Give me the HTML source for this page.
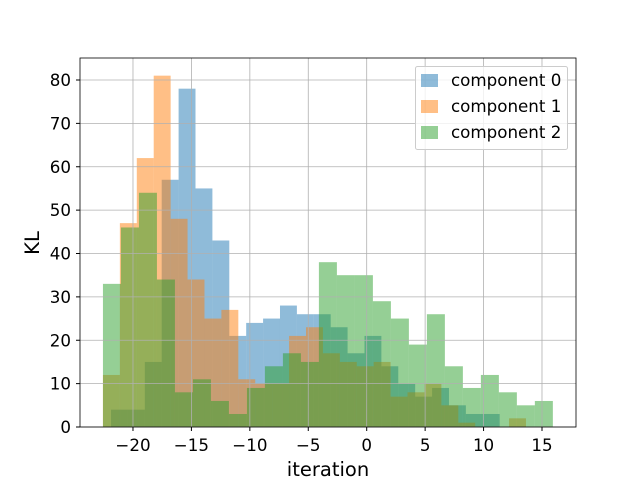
<!DOCTYPE html>
<html><head><meta charset="utf-8"><style>
body{margin:0;background:#fff}
svg{display:block;font-family:"DejaVu Sans","Liberation Sans",sans-serif}
</style></head><body>
<svg id="chart" width="640" height="480">
<rect x="0" y="0" width="640" height="480" fill="#fff"/>
<g id="bars"></g>
<g id="grid"></g>
<rect x="80" y="58" width="496" height="369" fill="none" stroke="#000" stroke-width="0.8"/>
<g id="ticks"></g>
<text x="328" y="476" font-size="19.5" text-anchor="middle">iteration</text>
<text x="39" y="243" font-size="19.5" text-anchor="middle" transform="rotate(-90 39 243)">KL</text>
<g>
<rect x="415.5" y="66.5" width="152" height="83" rx="2" fill="#fff" fill-opacity="0.8" stroke="#ccc"/>
<g><rect x="421" y="74" width="17" height="13" fill="#1f77b4" fill-opacity="0.5"/><text x="451" y="86" font-size="16.7">component 0</text></g>
<g><rect x="421" y="100" width="17" height="13" fill="#ff7f0e" fill-opacity="0.5"/><text x="451" y="112" font-size="16.7">component 1</text></g>
<g><rect x="421" y="126" width="17" height="13" fill="#2ca02c" fill-opacity="0.5"/><text x="451" y="138" font-size="16.7">component 2</text></g>
</g>
</svg>
<script>
const xTicks=[-20,-15,-10,-5,0,5,10,15];
const yTicks=[0,10,20,30,40,50,60,70,80];
const blueStart=-21.88, blueWidth=1.446;
const blueCounts=[4,4,15,57,78,55,43,21,24,25,28,26,26,23,17,21,14,10,7,9,5,3,3];
const orangeStart=-22.57, orangeWidth=1.448;
const orangeCounts=[12,47,62,81,48,34,25,27,11,10,10,21,23,17,15,14,15,7,8,10,5,1,0,0,2];
const greenStart=-22.57, greenWidth=1.540;
const greenCounts=[33,46,54,34,8,11,6,3,9,14,17,15,38,35,35,29,25,19,26,14,9,12,8,5,6];

const NS="http://www.w3.org/2000/svg";
function xs(v){return 366.7+v*11.686;}
function ys(v){return 427-v*4.3375;}
const bars=document.getElementById('bars');
function series(start,w,counts,color,name){
  counts.forEach((c,i)=>{
    const x0=xs(start+i*w), x1=xs(start+(i+1)*w);
    const r=document.createElementNS(NS,'rect');
    r.setAttribute('x',x0);r.setAttribute('width',x1-x0);
    r.setAttribute('y',ys(c));r.setAttribute('height',ys(0)-ys(c));
    r.setAttribute('fill',color);r.setAttribute('fill-opacity','0.5');
    
    
    bars.appendChild(r);
  });
}
series(blueStart,blueWidth,blueCounts,'#1f77b4','component-0');
series(orangeStart,orangeWidth,orangeCounts,'#ff7f0e','component-1');
series(greenStart,greenWidth,greenCounts,'#2ca02c','component-2');
const grid=document.getElementById('grid'), ticks=document.getElementById('ticks');
xTicks.forEach(t=>{
  const x=xs(t);
  const l=document.createElementNS(NS,'line');
  l.setAttribute('x1',x);l.setAttribute('x2',x);l.setAttribute('y1',58);l.setAttribute('y2',427);
  l.setAttribute('stroke','#b0b0b0');l.setAttribute('stroke-width','0.8');
  
  
  grid.appendChild(l);
  const k=document.createElementNS(NS,'line');
  k.setAttribute('x1',x);k.setAttribute('x2',x);k.setAttribute('y1',427);k.setAttribute('y2',431);
  k.setAttribute('stroke','#000');
  
  
  ticks.appendChild(k);
  const tx=document.createElementNS(NS,'text');
  tx.setAttribute('x',x);tx.setAttribute('y',451);tx.setAttribute('font-size','16.7');tx.setAttribute('text-anchor','middle');
  tx.textContent=t<0?'\u2212'+(-t):String(t);
  
  
  ticks.appendChild(tx);
});
yTicks.forEach(t=>{
  const y=ys(t);
  const l=document.createElementNS(NS,'line');
  l.setAttribute('x1',80);l.setAttribute('x2',576);l.setAttribute('y1',y);l.setAttribute('y2',y);
  l.setAttribute('stroke','#b0b0b0');l.setAttribute('stroke-width','0.8');
  
  
  grid.appendChild(l);
  const k=document.createElementNS(NS,'line');
  k.setAttribute('x1',76);k.setAttribute('x2',80);k.setAttribute('y1',y);k.setAttribute('y2',y);
  k.setAttribute('stroke','#000');
  
  
  ticks.appendChild(k);
  const tx=document.createElementNS(NS,'text');
  tx.setAttribute('x',71);tx.setAttribute('y',y+6);tx.setAttribute('font-size','16.7');tx.setAttribute('text-anchor','end');
  tx.textContent=String(t);
  
  
  ticks.appendChild(tx);
});
</script>
</body></html>
